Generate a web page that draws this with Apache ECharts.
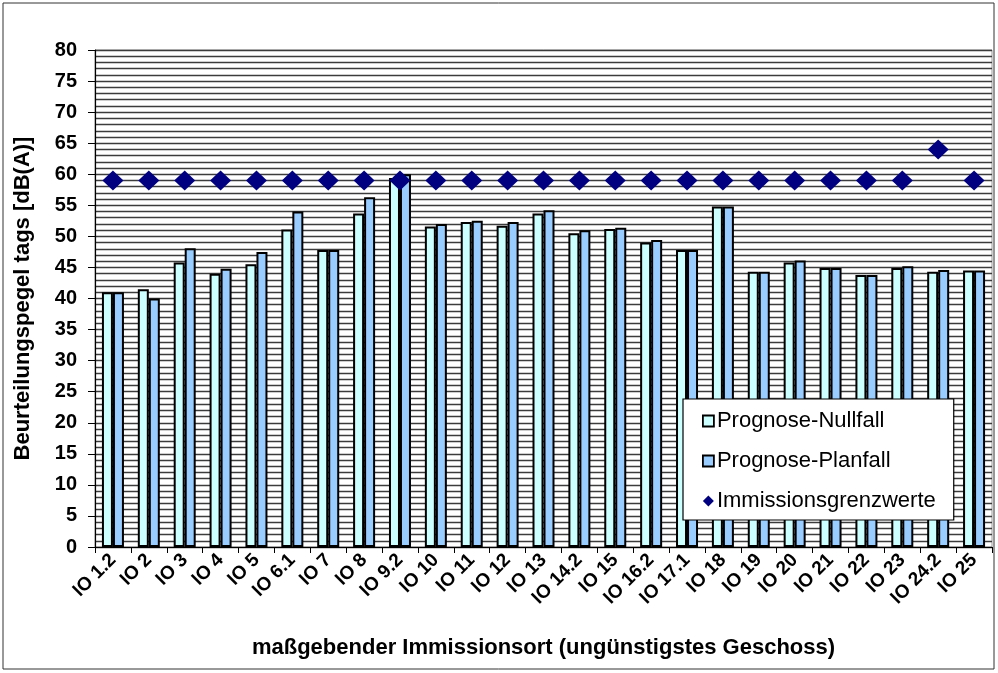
<!DOCTYPE html>
<html><head><meta charset="utf-8">
<script src="https://cdn.jsdelivr.net/npm/echarts@6/dist/echarts.min.js"></script>
<style>html,body{margin:0;padding:0;background:#fff}#c{width:998px;height:673px}</style>
</head><body><div id="c"></div>
<script>
const categories = ['IO 1.2','IO 2','IO 3','IO 4','IO 5','IO 6.1','IO 7','IO 8','IO 9.2','IO 10','IO 11','IO 12','IO 13','IO 14.2','IO 15','IO 16.2','IO 17.1','IO 18','IO 19','IO 20','IO 21','IO 22','IO 23','IO 24.2','IO 25'];
const nullfall = [41.0,41.5,45.8,44.0,45.5,51.1,47.8,53.7,59.4,51.6,52.3,51.7,53.7,50.5,51.2,49.0,47.8,54.8,44.3,45.8,44.9,43.8,44.9,44.3,44.5];
const planfall = [41.0,40.0,48.1,44.8,47.5,54.0,47.8,56.3,60.0,52.0,52.5,52.3,54.2,51.0,51.4,49.4,47.8,54.8,44.3,46.1,44.9,43.8,45.2,44.6,44.5];
const grenzwerte = [59,59,59,59,59,59,59,59,59,59,59,59,59,59,59,59,59,59,59,59,59,59,59,64,59];
const yTicks = {min:0, max:80, interval:5};

const font = '"Liberation Sans", Arial, sans-serif';
const chart = echarts.init(document.getElementById('c'), null, {renderer:'canvas'});
chart.setOption({
  animation:false,
  backgroundColor:'#fff',
  textStyle:{fontFamily:font},
  graphic:[{type:'rect',shape:{x:3,y:3,width:991,height:666},style:{fill:'none',stroke:'#333',lineWidth:1},silent:true}],
  grid:{left:95,right:6,top:50,bottom:126,show:true,borderColor:'#999',borderWidth:1,backgroundColor:'#fff'},
  legend:{
    orient:'vertical', left:683, top:399,
    backgroundColor:'#fff', borderColor:'#000', borderWidth:1.2,
    padding:[11,18,8,19], itemGap:18, itemWidth:11, itemHeight:11,
    textStyle:{fontFamily:font,fontSize:22,color:'#000',padding:[0,0,0,-2]},
    data:[
      {name:'Prognose-Nullfall',icon:'rect',itemStyle:{color:'#ccffff',borderColor:'#000',borderWidth:1.8}},
      {name:'Prognose-Planfall',icon:'rect',itemStyle:{color:'#99ccff',borderColor:'#000',borderWidth:1.8}},
      {name:'Immissionsgrenzwerte',icon:'diamond',itemStyle:{color:'#000080',opacity:1}}
    ]
  },
  xAxis:{
    type:'category', data:categories, boundaryGap:true,
    axisLine:{lineStyle:{color:'#000',width:1.2}},
    axisTick:{show:true,alignWithLabel:false,length:6,lineStyle:{color:'#000'}},
    axisLabel:{rotate:45,fontFamily:font,fontWeight:'bold',fontSize:19,color:'#000',margin:10,interval:0},
    name:'maßgebender Immissionsort (ungünstigstes Geschoss)', nameLocation:'middle', nameGap:90,
    nameTextStyle:{fontFamily:font,fontWeight:'bold',fontSize:22,color:'#000'}
  },
  yAxis:{
    type:'value', min:yTicks.min, max:yTicks.max, interval:yTicks.interval,
    axisLine:{show:true,lineStyle:{color:'#000',width:1.2}},
    axisTick:{show:true,length:7,lineStyle:{color:'#000'}},
    axisLabel:{fontFamily:font,fontWeight:'bold',fontSize:20,color:'#000',margin:18},
    splitLine:{show:true,lineStyle:{color:'#3c3c3c',width:1.4}},
    minorTick:{show:false,splitNumber:5},
    minorSplitLine:{show:true,lineStyle:{color:'#3c3c3c',width:1.4}},
    name:'Beurteilungspegel tags [dB(A)]', nameLocation:'middle', nameGap:61,
    nameTextStyle:{fontFamily:font,fontWeight:'bold',fontSize:22,color:'#000'}
  },
  series:[
    {name:'Prognose-Nullfall',type:'bar',data:nullfall,barWidth:11,barGap:'0%',
     itemStyle:{color:'#ccffff',borderColor:'#000',borderWidth:2}},
    {name:'Prognose-Planfall',type:'bar',data:planfall,barWidth:11,barGap:'0%',
     itemStyle:{color:'#99ccff',borderColor:'#000',borderWidth:2}},
    {name:'Immissionsgrenzwerte',type:'scatter',data:grenzwerte,symbol:'diamond',symbolSize:[21,20],
     itemStyle:{color:'#000080',opacity:1},z:5}
  ]
});
</script></body></html>
